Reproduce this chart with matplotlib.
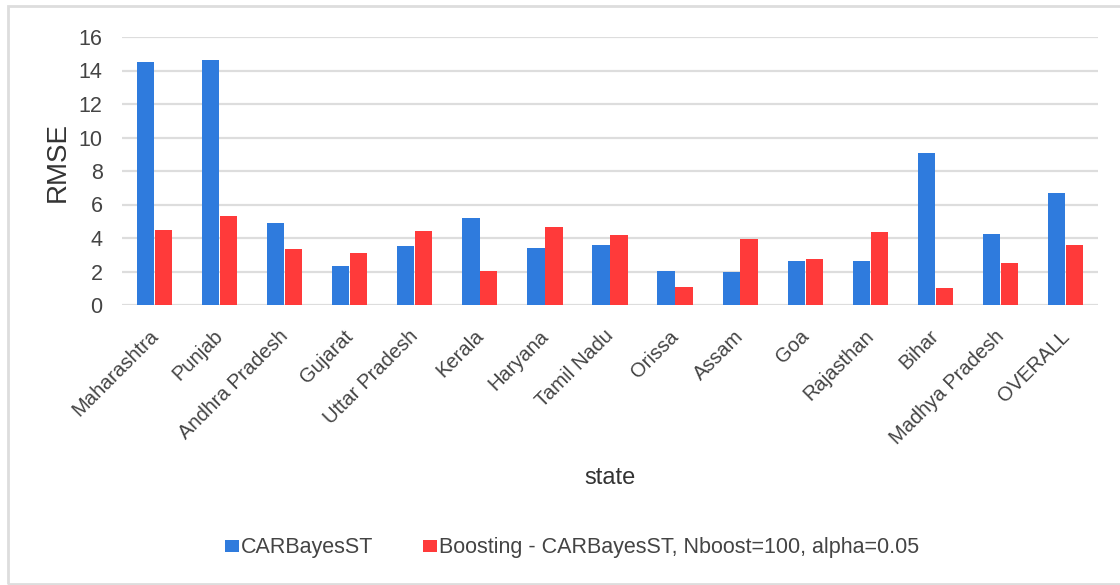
import numpy as np
import matplotlib.pyplot as plt
from matplotlib.patches import Rectangle
from matplotlib.transforms import ScaledTranslation

states = ['Maharashtra', 'Punjab', 'Andhra Pradesh', 'Gujarat', 'Uttar Pradesh',
          'Kerala', 'Haryana', 'Tamil Nadu', 'Orissa', 'Assam', 'Goa',
          'Rajasthan', 'Bihar', 'Madhya Pradesh', 'OVERALL']
carbayes = [14.5, 14.65, 4.9, 2.3, 3.52, 5.17, 3.38, 3.6, 2.01, 1.95,
            2.6, 2.6, 9.1, 4.22, 6.7]
boosting = [4.47, 5.3, 3.32, 3.12, 4.43, 2.01, 4.63, 4.16, 1.06, 3.97,
            2.76, 4.38, 1.03, 2.52, 3.56]
yticks = [0, 2, 4, 6, 8, 10, 12, 14, 16]

plt.rcParams['font.family'] = ['Liberation Sans', 'DejaVu Sans']
text_color = '#444444'

fig = plt.figure(figsize=(11.2, 5.85), dpi=100)
W, H = 1120, 585
ax = fig.add_axes([122 / W, 1 - 305 / H, (1098 - 122) / W, (305 - 37) / H])

# light frame around the whole chart
fig.patches.append(Rectangle((8 / W, 1 / H), 1.2, 1 - 7 / H, transform=fig.transFigure,
                             fill=False, edgecolor='#dddddd', linewidth=2))

x = np.arange(len(states))
w = 0.265
ax.bar(x - w / 2 - 0.005, carbayes, w, color='#2f7bdd', label='CARBayesST', zorder=3)
ax.bar(x + w / 2 + 0.005, boosting, w, color='#ff3a3a',
       label='Boosting - CARBayesST, Nboost=100, alpha=0.05', zorder=3)

ax.set_xlim(-0.5, len(states) - 0.5)
ax.set_ylim(0, 16)
ax.set_yticks(yticks)
ax.set_yticklabels([str(t) for t in yticks], fontsize=15.5, color=text_color)
ax.yaxis.grid(True, color='#dddddd', linewidth=1.6, zorder=0)
for s in ax.spines.values():
    s.set_visible(False)
ax.tick_params(axis='both', length=0)
ax.tick_params(axis='y', pad=14)

ax.set_xticks(x)
ax.set_xticklabels(states, rotation=45, ha='right', rotation_mode='anchor',
                   fontsize=14.5, color=text_color)
ax.tick_params(axis='x', pad=15.5)
shift = ScaledTranslation(-0.06, 0, fig.dpi_scale_trans)
for lab in ax.get_xticklabels():
    lab.set_transform(lab.get_transform() + shift)

fig.text(58 / W, 1 - 162 / H, 'RMSE', rotation=90, ha='center', va='center',
         fontsize=20, color='#333333')
fig.text(610 / W, 1 - 478 / H, 'state', ha='center', va='center',
         fontsize=17, color='#333333')

leg = fig.legend(loc='center', bbox_to_anchor=(572 / W, 1 - 548 / H), ncol=2,
                 frameon=False, fontsize=15.5, handlelength=0.65, handleheight=0.5,
                 handletextpad=0.1, columnspacing=2.3)
for t in leg.get_texts():
    t.set_color(text_color)

fig.savefig('out.png', dpi=100, facecolor='white')
